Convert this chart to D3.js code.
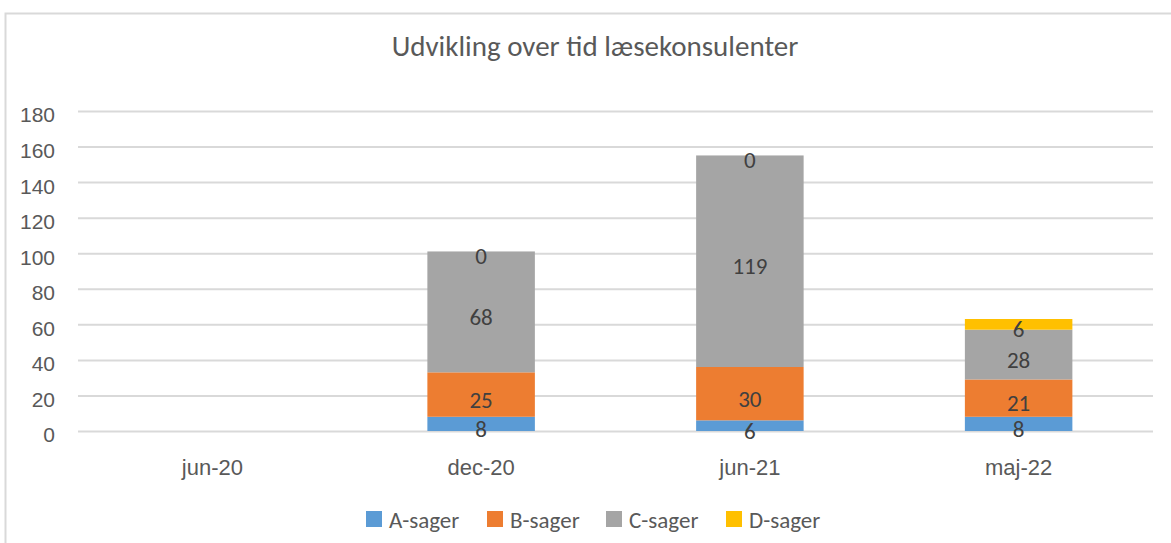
<!DOCTYPE html>
<html>
<head>
<meta charset="utf-8">
<script src="https://cdn.jsdelivr.net/npm/d3@7"></script>
<style>
  body { margin: 0; background: #fff; }
  svg { display: block; font-family: Carlito, Lato, sans-serif; }
</style>
</head>
<body>
<div id="chart"></div>
<script>
"use strict";

// data (jun-20 has no values)
const categories = ["jun-20", "dec-20", "jun-21", "maj-22"];
const seriesNames = ["A-sager", "B-sager", "C-sager", "D-sager"];
const aSager = [null, 8, 6, 8];
const bSager = [null, 25, 30, 21];
const cSager = [null, 68, 119, 28];
const dSager = [null, 0, 0, 6];
const yTicks = [0, 20, 40, 60, 80, 100, 120, 140, 160, 180];
const colors = ["#5B9BD5", "#ED7D31", "#A5A5A5", "#FFC000"];

const W = 1171, H = 543;
const plot = { left: 78, right: 1153, top: 111, bottom: 431 };

const svg = d3.select("#chart").append("svg")
    .attr("width", W)
    .attr("height", H);

// chart border (cut off at right and bottom like the reference)
svg.append("rect")
    .attr("x", 5.5).attr("y", 13.5)
    .attr("width", 1300).attr("height", 700)
    .attr("fill", "none")
    .attr("stroke", "#D9D9D9")
    .attr("stroke-width", 2);

svg.append("text")
    .attr("x", 595).attr("y", 56)
    .attr("text-anchor", "middle")
    .attr("fill", "#595959")
    .style("font-size", "29px")
    .style("font-weight", 300)
    .text("Udvikling over tid læsekonsulenter");

//----------------------------SCALES----------------------------//
const x = d3.scaleBand()
    .domain(categories)
    .range([plot.left, plot.right])
    .paddingInner(0.6)
    .paddingOuter(0.3);

const y = d3.scaleLinear()
    .domain([0, 180])
    .range([plot.bottom, plot.top]);

//-----------------------------AXES-----------------------------//
const yAxis = d3.axisLeft(y)
    .tickValues(yTicks)
    .tickSize(-(plot.right - plot.left))
    .tickPadding(23);

const yAxisEl = svg.append("g")
    .attr("transform", `translate(${plot.left},0)`)
    .call(yAxis);
yAxisEl.select(".domain").remove();
yAxisEl.selectAll(".tick line")
    .attr("stroke", "#D9D9D9")
    .attr("stroke-width", 2);
yAxisEl.selectAll(".tick text")
    .attr("fill", "#595959")
    .attr("dy", "0.52em")
    .style("font-size", "21px");

const xAxis = d3.axisBottom(x).tickSize(0).tickPadding(0);
const xAxisEl = svg.append("g")
    .attr("transform", `translate(0,${plot.bottom})`)
    .call(xAxis);
xAxisEl.select(".domain").remove();
xAxisEl.selectAll(".tick text")
    .attr("y", 44)
    .attr("dy", 0)
    .attr("fill", "#595959")
    .style("font-size", "22px");

//-----------------------------BARS-----------------------------//
const rows = categories.map((c, i) => ({
    cat: c,
    "A-sager": aSager[i],
    "B-sager": bSager[i],
    "C-sager": cSager[i],
    "D-sager": dSager[i]
}));

const stacked = d3.stack()
    .keys(seriesNames)
    .value((d, k) => d[k] == null ? 0 : d[k])(rows);

const layers = svg.append("g").selectAll("g")
    .data(stacked)
    .join("g")
    .attr("fill", (d, i) => colors[i]);

layers.selectAll("rect")
    .data(d => d)
    .join("rect")
    .attr("x", d => x(d.data.cat))
    .attr("width", x.bandwidth())
    .attr("y", d => y(d[1]))
    .attr("height", d => y(d[0]) - y(d[1]));

// data labels, centred in each segment
const labels = svg.append("g");
stacked.forEach(layer => {
    layer.forEach(d => {
        const v = d.data[layer.key];
        if (v == null) return;
        labels.append("text")
            .attr("x", x(d.data.cat) + x.bandwidth() / 2)
            .attr("y", (y(d[0]) + y(d[1])) / 2 + 13)
            .attr("text-anchor", "middle")
            .attr("fill", "#404040")
            .style("font-size", "23px")
            .text(v);
    });
});

//----------------------------LEGEND----------------------------//
const legendX = [366, 487, 606, 726];
const legend = svg.append("g").selectAll("g")
    .data(seriesNames)
    .join("g")
    .attr("transform", (d, i) => `translate(${legendX[i]},511)`);

legend.append("rect")
    .attr("width", 16).attr("height", 16)
    .attr("fill", (d, i) => colors[i]);

legend.append("text")
    .attr("x", 23).attr("y", 17)
    .attr("fill", "#595959")
    .style("font-size", "23px")
    .text(d => d);
</script>
</body>
</html>
